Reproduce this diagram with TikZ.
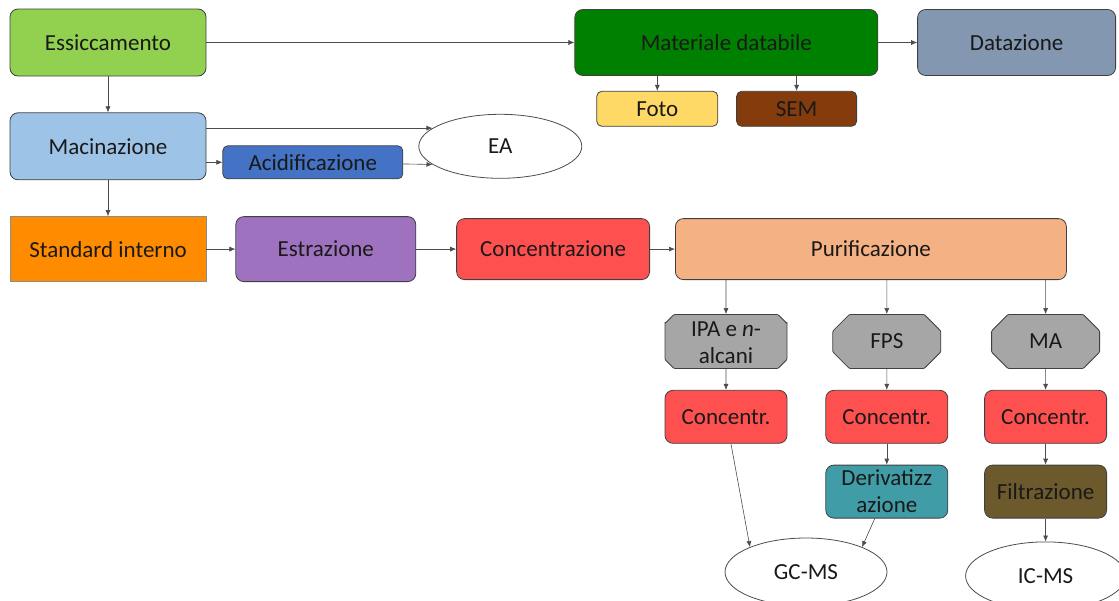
\documentclass[tikz,border=0pt]{standalone}
\usepackage{fontspec}
\setmainfont{Carlito}
\usetikzlibrary{arrows.meta, positioning, shapes}

\definecolor{essGreen}{RGB}{146,208,80}
\definecolor{matGreen}{RGB}{0,128,0}
\definecolor{datBlue}{RGB}{132,151,176}
\definecolor{fotoYellow}{RGB}{255,217,102}
\definecolor{semBrown}{RGB}{132,60,12}
\definecolor{macBlue}{RGB}{157,195,230}
\definecolor{acidBlue}{RGB}{68,114,196}
\definecolor{stdOrange}{RGB}{255,140,0}
\definecolor{estPurple}{RGB}{158,114,190}
\definecolor{concRed}{RGB}{255,80,80}
\definecolor{purPeach}{RGB}{244,177,131}
\definecolor{fracGray}{RGB}{166,166,166}
\definecolor{derTeal}{RGB}{64,156,166}
\definecolor{filOlive}{RGB}{108,90,44}

\begin{document}
\begin{tikzpicture}[
    x=1pt, y=1pt,
    box/.style = {draw=black!75, line width=0.8pt, rounded corners=8pt, text=black!90, inner sep=0pt, align=center, font=\fontsize{23}{27}\selectfont},
    stepBox/.style = {box, minimum width=122pt, minimum height=53pt},
    fraction/.style = {box, chamfered rectangle, chamfered rectangle xsep=9pt, chamfered rectangle ysep=9pt, rounded corners=1pt, fill=fracGray, minimum height=54pt},
    method/.style = {draw=black!70, line width=0.8pt, ellipse, fill=white, inner sep=0pt, text=black!90, font=\fontsize{23}{27}\selectfont},
    flow/.style = {-{Latex[length=6pt, width=5pt]}, draw=black!70, line width=0.6pt},
    node distance=36pt and 30pt
]
\useasboundingbox (0,0) rectangle (1119,-600);

\node(Essiccamento)[box, fill=essGreen, minimum width=196pt, minimum height=67pt] at (108,-42.5) {Essiccamento};

\node(Materiale)[box, fill=matGreen, minimum width=303pt, minimum height=66pt, right=368pt of Essiccamento] {Materiale databile};
\draw[flow] (Essiccamento) -- (Materiale);

\node(Datazione)[box, fill=datBlue, minimum width=198pt, minimum height=66pt, right=39pt of Materiale] {Datazione};
\draw[flow] (Materiale) -- (Datazione);

\node(Foto)[box, fill=fotoYellow, rounded corners=5pt, minimum width=121pt, minimum height=35pt, below right=15pt and 22pt of Materiale.south west] {Foto};
\node(SEM)[box, fill=semBrown, rounded corners=5pt, minimum width=120pt, minimum height=35pt, right=18pt of Foto] {SEM};
\draw[flow] (Foto |- Materiale.south) -- (Foto);
\draw[flow] (SEM |- Materiale.south) -- (SEM);

\node(Macinazione)[box, fill=macBlue, minimum width=196pt, minimum height=67pt, below=36pt of Essiccamento] {Macinazione};
\draw[flow] (Essiccamento) -- (Macinazione);

\node(EA)[method, minimum width=163pt, minimum height=64pt, right=212pt of Macinazione] {EA};
\node(Acidificazione)[box, fill=acidBlue, rounded corners=5pt, minimum width=180pt, minimum height=33pt, above right=1pt and 16pt of Macinazione.south east] {Acidificazione};
\draw[flow] (Macinazione.east |- EA.165) -- (EA.165);
\draw[flow] (Macinazione.east |- Acidificazione.west) -- (Acidificazione);
\draw[flow] (Acidificazione) -- (EA.195);

\node(Standard)[box, rounded corners=0pt, draw=black!45, fill=stdOrange, minimum width=196pt, minimum height=65pt, below=36pt of Macinazione] {Standard interno};
\draw[flow] (Macinazione) -- (Standard);

\node(Estrazione)[box, fill=estPurple, minimum width=180pt, minimum height=65pt, right=29pt of Standard] {Estrazione};
\node(Concentrazione)[box, fill=concRed, minimum width=193pt, minimum height=61pt, right=40pt of Estrazione] {Concentrazione};
\node(Purificazione)[box, fill=purPeach, minimum width=391pt, minimum height=61pt, right=25pt of Concentrazione] {Purificazione};
\draw[flow] (Standard) -- (Estrazione);
\draw[flow] (Estrazione) -- (Concentrazione);
\draw[flow] (Concentrazione) -- (Purificazione);

\node(IPA)[fraction, minimum width=122pt] at (726,-341.5) {\smash{\raisebox{-9pt}{\begin{tabular}{@{}c@{}}IPA e \textit{n}-\\alcani\end{tabular}}}};
\node(FPS)[fraction, minimum width=108pt, right=45pt of IPA] {FPS};
\node(MA)[fraction, minimum width=108pt, right=50pt of FPS] {MA};
\draw[flow] (IPA |- Purificazione.south) -- (IPA);
\draw[flow] (FPS |- Purificazione.south) -- (FPS);
\draw[flow] (MA |- Purificazione.south) -- (MA);

\node(ConcIPA)[stepBox, fill=concRed, below=21pt of IPA] {Concentr.};
\node(ConcFPS)[stepBox, fill=concRed, below=21pt of FPS] {Concentr.};
\node(ConcMA)[stepBox, fill=concRed, below=21pt of MA] {Concentr.};
\draw[flow] (IPA) -- (ConcIPA);
\draw[flow] (FPS) -- (ConcFPS);
\draw[flow] (MA) -- (ConcMA);

\node(Derivatizzazione)[stepBox, fill=derTeal, below=21pt of ConcFPS] {Derivatizz\\azione};
\node(Filtrazione)[stepBox, fill=filOlive, below=21pt of ConcMA] {Filtrazione};
\draw[flow] (ConcFPS) -- (Derivatizzazione);
\draw[flow] (ConcMA) -- (Filtrazione);

\node(GCMS)[method, minimum width=162pt, minimum height=68pt] at (806,-572) {GC-MS};
\node(ICMS)[method, minimum width=160pt, minimum height=68pt, below=23pt of Filtrazione] {IC-MS};
\draw[flow] (ConcIPA) -- (GCMS.156);
\draw[flow] (Derivatizzazione) -- (GCMS.24);
\draw[flow] (Filtrazione) -- (ICMS);

\end{tikzpicture}
\end{document}
